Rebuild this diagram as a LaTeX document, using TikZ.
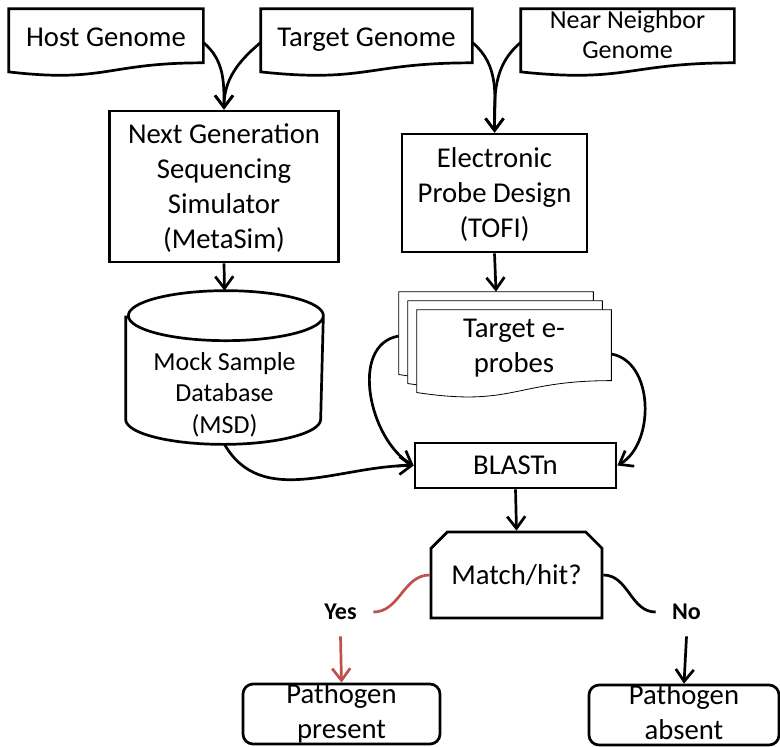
\documentclass[tikz,border=0pt]{standalone}
\usepackage{fontspec}
\setmainfont{Carlito}
\usetikzlibrary{shapes.misc,arrows.meta,calc,backgrounds}

\definecolor{yesred}{RGB}{192,80,77}

% outline of a document shape (wavy bottom) round a node
\newcommand\docoutline[2][]{%
  \draw[#1] (#2.north west) -- (#2.north east)
    -- ($(#2.north east)!0.8!(#2.south east)$)
    .. controls ($(#2.north)!0.8!(#2.south)$) and ($(#2.north)!1.1!(#2.south)$)
    .. ($(#2.north west)!0.934!(#2.south west)$) -- cycle;}

% database drum round a node (the node is the part below the lid)
\newcommand\drumoutline[1]{%
  \draw ([yshift=12.5pt]#1.north west) -- ([yshift=12.5pt]#1.south west)
    arc[start angle=180,end angle=360,x radius=48.75pt,y radius=12.5pt]
    -- ([yshift=12.5pt]#1.north east)
    arc[start angle=0,end angle=360,x radius=48.75pt,y radius=12.5pt];}

\tikzset{
  every node/.style={font=\fontsize{14.35}{17.5}\selectfont,align=center,inner sep=0pt},
  doc/.style={minimum height=32.5pt,text depth=5.5pt},
  box/.style={draw,rectangle,text depth=0pt},
  result/.style={box,rounded corners=5pt,minimum height=30pt,text depth=2.5pt,font=\fontsize{14.35}{17.5}\selectfont},
  answer/.style={font=\bfseries\fontsize{12}{14}\selectfont,minimum height=23pt},
  flow/.style={-{Straight Barb[length=6pt,width=9pt]}},
}

\begin{document}
\begin{tikzpicture}[x=0.5pt,y=-0.5pt,line width=1.35pt]
  \useasboundingbox (0,0) rectangle (780,746);

  % genomes
  \node[doc,minimum width=96pt] (hg) at (106,42.5) {Host Genome};
  \node[doc,minimum width=104.5pt] (tg) at (366.5,42.5) {Target Genome};
  \node[doc,minimum width=105.5pt,text depth=8pt,font=\fontsize{13}{15}\selectfont] (nn) at (627.5,42.5)
    {Near Neighbor\\Genome};
  \docoutline{hg}
  \docoutline{tg}
  \docoutline{nn}

  % tools
  \node[box,minimum width=114.5pt,minimum height=75.5pt] (ngs) at (224,186.5)
    {Next Generation\\Sequencing\\Simulator\\(MetaSim)};
  \node[box,minimum width=92.5pt,minimum height=59pt] (epd) at (494.5,193)
    {Electronic\\Probe Design\\(TOFI)};
  \node[minimum width=97.5pt,minimum height=50.5pt,text depth=0pt,font=\fontsize{13}{15.75}\selectfont]
    (msd) at (224.5,392.5) {Mock Sample\\Database\\(MSD)};
  \drumoutline{msd}

  % stack of e-probes
  \node[doc,minimum width=96pt,minimum height=43pt] (p3) at (496,336) {};
  \node[doc,minimum width=96pt,minimum height=43pt] (p2) at (505,345) {};
  \node[doc,minimum width=96pt,minimum height=43pt,text depth=8.7pt] (p1) at (514,354) {Target e-\\probes};
  \begin{scope}[on background layer]
    \docoutline[fill=white]{p3}
    \docoutline[fill=white]{p2}
    \docoutline[fill=white]{p1}
  \end{scope}

  \node[box,minimum width=100.5pt,minimum height=22.5pt] (blast) at (515.5,465.5) {BLASTn};
  \node[draw,chamfered rectangle,chamfered rectangle corners={north west,north east},
        chamfered rectangle xsep=6.5pt,text depth=0pt,minimum width=85.5pt,minimum height=43pt]
    (match) at (516.5,575) {Match/hit?};

  \node[answer,minimum width=31.5pt] (yes) at (340.5,612) {Yes};
  \node[answer,minimum width=29.5pt] (no) at (686.5,612) {No};

  \node[result,minimum width=98.5pt] (present) at (341.5,714) {Pathogen\\present};
  \node[result,minimum width=95pt] (absent) at (684,715) {Pathogen\\absent};

  % connectors
  \draw[flow] (hg.east) to[out=-40,in=90] (ngs.north);
  \draw[flow] (tg.west) to[out=220,in=90] (ngs.north);
  \draw[flow] (tg.east) to[out=-40,in=90] (epd.north);
  \draw[flow] (nn.west) to[out=220,in=90] (epd.north);
  \draw[flow] (ngs.south) -- ([yshift=25pt]msd.north);
  \draw[flow] (epd.south) -- (p3.north);
  \draw[flow] (msd.south) to[out=-60,in=180] (blast.west);
  \draw[flow] (p3.west) to[out=190,in=150] (blast.west);
  \draw[flow] (p1.east) to[out=-10,in=30] (blast.east);
  \draw[flow] (blast.south) -- (match.north);
  \draw[yesred] (match.west) to[out=180,in=0] (yes.east);
  \draw[flow,yesred] (yes.south) -- (present.north);
  \draw (match.east) to[out=0,in=180] (no.west);
  \draw[flow] (no.south) -- (absent.north);
\end{tikzpicture}
\end{document}
